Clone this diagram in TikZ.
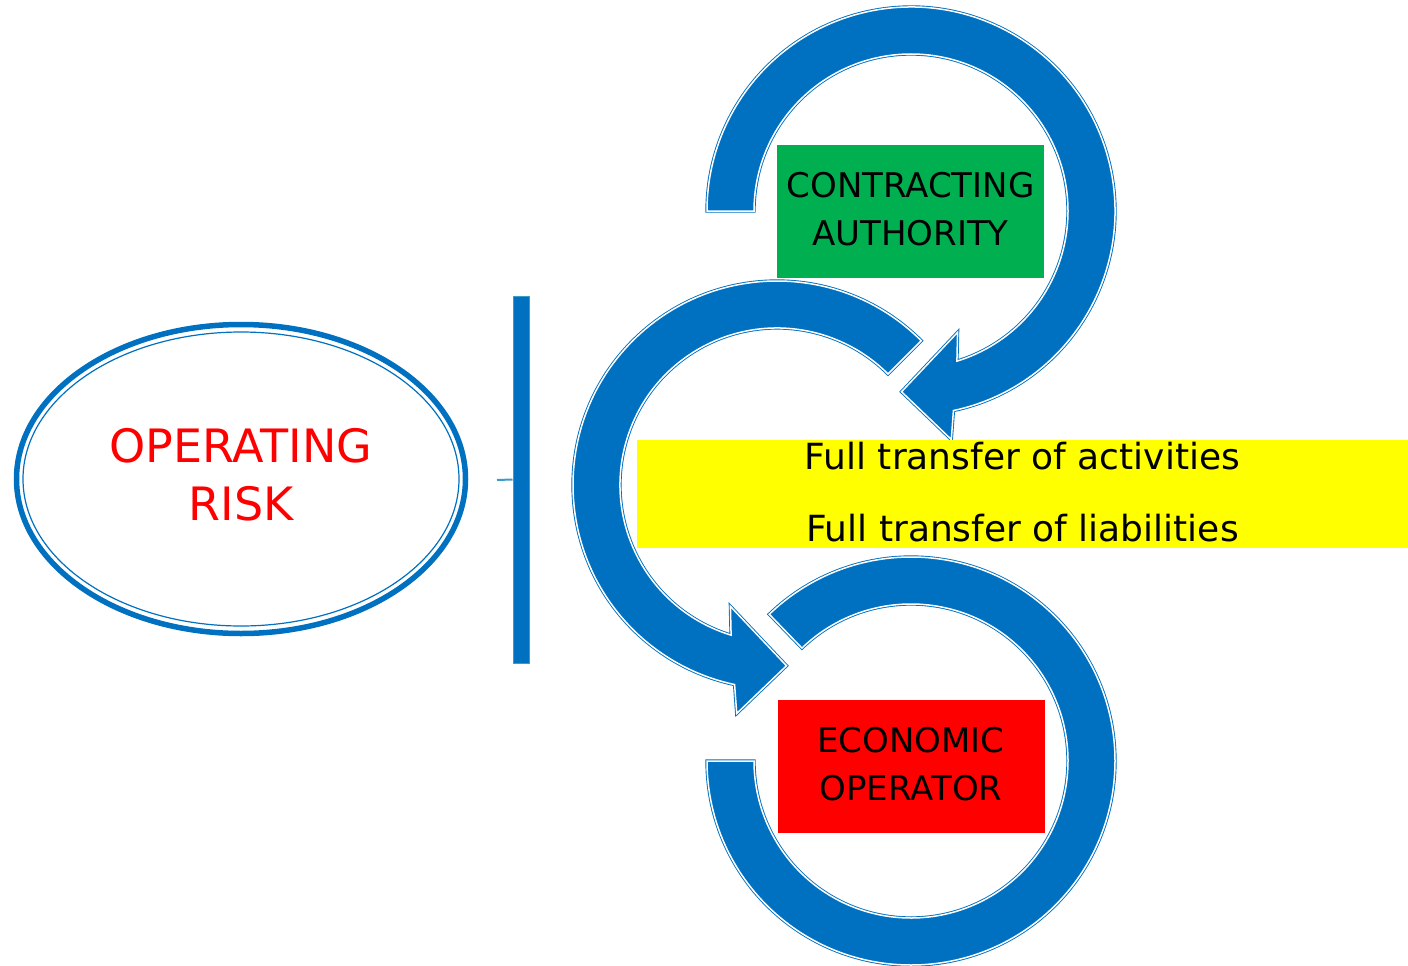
\documentclass[tikz,border=0pt]{standalone}
\usepackage{fontspec}
\setmainfont{DejaVu Sans}
\usetikzlibrary{shapes.geometric}

\definecolor{ringblue}{HTML}{0070C0}
\definecolor{barteal}{HTML}{3C9CC8}
\definecolor{cagreen}{HTML}{00B050}
\definecolor{eored}{HTML}{FF0000}
\definecolor{flowyellow}{HTML}{FFFF00}

\tikzset{
  ring/.style={fill=ringblue, draw=ringblue, line width=0.9pt, double=white, double distance=1.5pt},
  party/.style={rectangle, minimum width=267pt, minimum height=133pt, inner sep=0pt, align=center,
                text depth=5pt, font=\fontsize{34}{48}\selectfont},
}

\begin{document}
\begin{tikzpicture}[x=1pt,y=1pt]
  \useasboundingbox (0,0) rectangle (1408,-966);

  % Define nodes
  \node[ellipse, draw=ringblue, line width=5.5pt, minimum width=449pt, minimum height=309pt,
        text=eored, align=center, text depth=9pt, font=\fontsize{46}{58}\selectfont] (risk) at (241,-479) {OPERATING\\RISK};
  \draw[ringblue, line width=1.2pt] (risk.center) ellipse [x radius=218, y radius=147];

  \node[rectangle, fill=ringblue, draw=barteal, line width=1pt, minimum width=16pt, minimum height=367pt] (bar) at (521,-479.5) {};
  \coordinate (tick) at (497,-480);
  \draw[barteal, line width=2pt] (bar.west) -- (tick);

  % Top arrow
  \begin{scope}[shift={(911,-211)}]
    \path[ring] (180:157) arc[start angle=180, end angle=-73, radius=157] -- (-69:130) -- (-93:181)
      -- (-80:232) -- (-78:204) arc[start angle=-78, end angle=180, radius=204] -- cycle;
  \end{scope}
  \node[party, fill=cagreen] (ca) at (910.5,-211.5) {CONTRACTING\\AUTHORITY};

  % Middle arrow
  \begin{scope}[shift={(777,-485)}]
    \path[ring] (45:204) arc[start angle=45, end angle=258, radius=204] -- (260:232) -- (273:181)
      -- (249:130) -- (253:157) arc[start angle=253, end angle=45, radius=157] -- cycle;
  \end{scope}
  \node[rectangle, fill=flowyellow, minimum width=771pt, minimum height=108pt, inner sep=0pt,
        align=center, text depth=5pt, font=\fontsize{36}{72}\selectfont] (flow) at (1022.5,-494) {Full transfer of activities\\Full transfer of liabilities};

  % Bottom arrow
  \begin{scope}[shift={(911,-761)}]
    \path[ring] (180:204) arc[start angle=180, end angle=494, radius=204] -- (134:157)
      arc[start angle=134, end angle=-180, radius=157] -- cycle;
  \end{scope}
  \node[party, fill=eored] (eo) at (911,-766) {ECONOMIC\\OPERATOR};
\end{tikzpicture}
\end{document}
